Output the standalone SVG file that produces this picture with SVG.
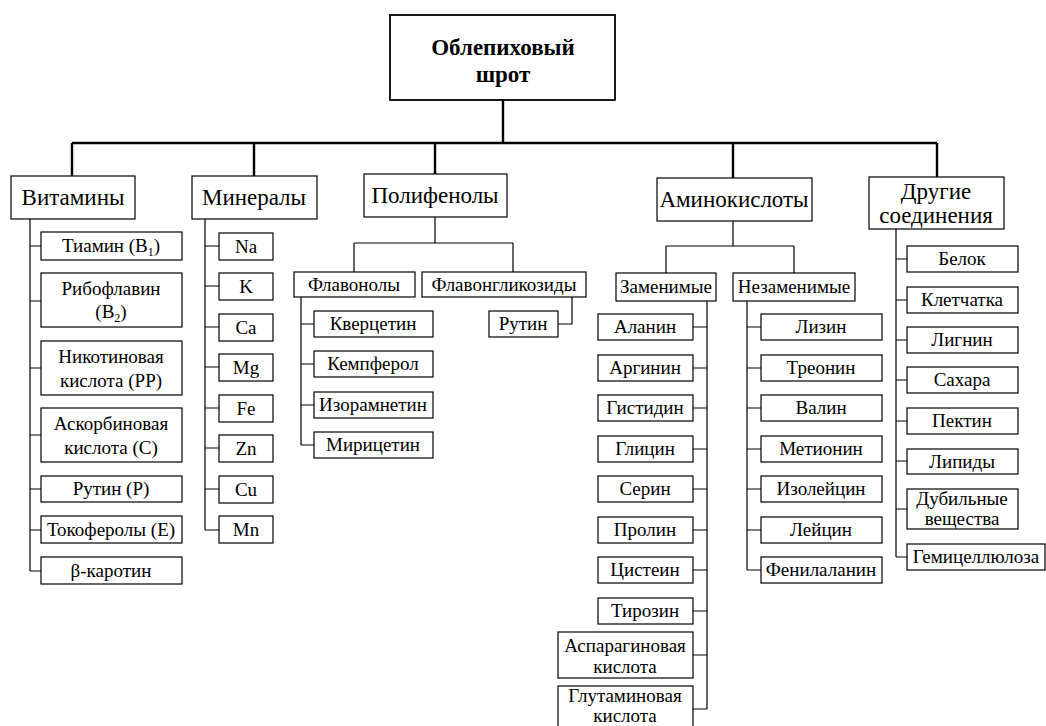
<svg xmlns="http://www.w3.org/2000/svg" width="1046" height="726" viewBox="0 0 1046 726">
<style>
rect{fill:#fff;stroke:#000;stroke-width:1.2}
.top{stroke-width:1.8}
text{font-family:"Liberation Serif","Times New Roman",serif;fill:#000;text-anchor:middle}
.t{font-size:23px;font-weight:bold}
.c{font-size:23px}
.s{font-size:19px}
.thick{stroke:#000;stroke-width:2.4;fill:none}
.thin{stroke:#000;stroke-width:1.2;fill:none}
</style>
<g id="connectors">
<path class="thick" d="M503 100V143M72 143H937M72 143V176M254 143V176M435 143V174M733 143V178M937 143V177"/>
<path class="thin" d="M30 219V571M30 246H41M30 301H41M30 368H41M30 435H41M30 489H41M30 530H41M30 571H41"/>
<path class="thin" d="M205 219V530M205 246H219M205 286H219M205 327H219M205 367H219M205 408H219M205 448H219M205 489H219M205 530H219"/>
<path class="thin" d="M435 217V243M354 243H513M354 243V272M513 243V272M301 297V445M301 324H314M301 364H314M301 405H314M301 445H314M572 297V324H558"/>
<path class="thin" d="M733 221V246M666 246H794M666 246V273M794 246V273M707 301V709M693 327H707M693 368H707M693 408H707M693 449H707M693 489H707M693 530H707M693 570H707M693 611H707M693 655H707M693 709H707"/>
<path class="thin" d="M747 301V570M747 327H761M747 368H761M747 408H761M747 449H761M747 489H761M747 530H761M747 570H761"/>
<path class="thin" d="M896 229V557M896 259H907M896 300H907M896 340H907M896 380H907M896 421H907M896 461H907M896 509H907M896 557H907"/>
</g>
<g id="root"><rect class="top" x="390" y="15" width="225" height="85"/><text class="t" x="503" y="55">Облепиховый</text><text class="t" x="503" y="82">шрот</text></g>
<g id="vitamins"><rect x="11" y="176" width="124" height="43"/><text class="c" x="73" y="205">Витамины</text></g>
<g id="minerals"><rect x="192" y="176" width="125" height="43"/><text class="c" x="254" y="205">Минералы</text></g>
<g id="polyphenols"><rect x="364" y="174" width="143" height="43"/><text class="c" x="435" y="203">Полифенолы</text></g>
<g id="aminoacids"><rect x="657" y="178" width="155" height="43"/><text class="c" x="734" y="207">Аминокислоты</text></g>
<g id="other"><rect x="869" y="177" width="135" height="52"/><text class="c" x="936" y="199">Другие</text><text class="c" x="936" y="223">соединения</text></g>

<g id="v1"><rect x="41" y="232" width="141" height="28"/><text class="s" x="111" y="252">Тиамин (B<tspan font-size="12" dy="4">1</tspan><tspan dy="-4">)</tspan></text></g>
<g id="v2"><rect x="41" y="273" width="141" height="54"/><text class="s" x="111" y="295">Рибофлавин</text><text class="s" x="111" y="318">(B<tspan font-size="12" dy="4">2</tspan><tspan dy="-4">)</tspan></text></g>
<g id="v3"><rect x="41" y="341" width="141" height="54"/><text class="s" x="111" y="363">Никотиновая</text><text class="s" x="111" y="387">кислота (PP)</text></g>
<g id="v4"><rect x="41" y="408" width="141" height="54"/><text class="s" x="111" y="430">Аскорбиновая</text><text class="s" x="111" y="454">кислота (C)</text></g>
<g id="v5"><rect x="41" y="476" width="141" height="26"/><text class="s" x="111" y="495">Рутин (P)</text></g>
<g id="v6"><rect x="41" y="516" width="141" height="27"/><text class="s" x="111" y="536" font-size="18">Токоферолы (E)</text></g>
<g id="v7"><rect x="41" y="557" width="141" height="27"/><text class="s" x="111" y="577">β-каротин</text></g>

<g id="m1"><rect x="219" y="233" width="54" height="27"/><text class="s" x="246" y="253">Na</text></g>
<g id="m2"><rect x="219" y="273" width="54" height="27"/><text class="s" x="246" y="293">K</text></g>
<g id="m3"><rect x="219" y="314" width="54" height="27"/><text class="s" x="246" y="334">Ca</text></g>
<g id="m4"><rect x="219" y="354" width="54" height="27"/><text class="s" x="246" y="374">Mg</text></g>
<g id="m5"><rect x="219" y="395" width="54" height="27"/><text class="s" x="246" y="415">Fe</text></g>
<g id="m6"><rect x="219" y="435" width="54" height="27"/><text class="s" x="246" y="455">Zn</text></g>
<g id="m7"><rect x="219" y="476" width="54" height="27"/><text class="s" x="246" y="496">Cu</text></g>
<g id="m8"><rect x="219" y="516" width="54" height="27"/><text class="s" x="246" y="536">Mn</text></g>

<g id="flavonols"><rect x="294" y="272" width="121" height="25"/><text class="s" x="354" y="291">Флавонолы</text></g>
<g id="flavonglycosides"><rect x="422" y="272" width="164" height="25"/><text class="s" x="504" y="291">Флавонгликозиды</text></g>
<g id="p1"><rect x="314" y="311" width="119" height="26"/><text class="s" x="373" y="330">Кверцетин</text></g>
<g id="p2"><rect x="314" y="351" width="119" height="26"/><text class="s" x="373" y="370">Кемпферол</text></g>
<g id="p3"><rect x="314" y="392" width="119" height="26"/><text class="s" x="373" y="411">Изорамнетин</text></g>
<g id="p4"><rect x="314" y="432" width="119" height="26"/><text class="s" x="373" y="451">Мирицетин</text></g>
<g id="p5"><rect x="489" y="311" width="69" height="26"/><text class="s" x="523" y="330">Рутин</text></g>

<g id="replaceable"><rect x="616" y="273" width="100" height="28"/><text class="s" x="666" y="293">Заменимые</text></g>
<g id="essential"><rect x="733" y="273" width="122" height="28"/><text class="s" x="794" y="293">Незаменимые</text></g>
<g id="a1"><rect x="598" y="314" width="95" height="26"/><text class="s" x="645" y="333">Аланин</text></g>
<g id="a2"><rect x="598" y="355" width="95" height="26"/><text class="s" x="645" y="374">Аргинин</text></g>
<g id="a3"><rect x="598" y="395" width="95" height="26"/><text class="s" x="645" y="414">Гистидин</text></g>
<g id="a4"><rect x="598" y="436" width="95" height="26"/><text class="s" x="645" y="455">Глицин</text></g>
<g id="a5"><rect x="598" y="476" width="95" height="26"/><text class="s" x="645" y="495">Серин</text></g>
<g id="a6"><rect x="598" y="517" width="95" height="26"/><text class="s" x="645" y="536">Пролин</text></g>
<g id="a7"><rect x="598" y="557" width="95" height="26"/><text class="s" x="645" y="576">Цистеин</text></g>
<g id="a8"><rect x="598" y="598" width="95" height="26"/><text class="s" x="645" y="617">Тирозин</text></g>
<g id="a9"><rect x="558" y="632" width="135" height="46"/><text class="s" x="625" y="652">Аспарагиновая</text><text class="s" x="625" y="673">кислота</text></g>
<g id="a10"><rect x="558" y="686" width="135" height="46"/><text class="s" x="625" y="702" font-size="18">Глутаминовая</text><text class="s" x="625" y="722" font-size="18">кислота</text></g>
<g id="e1"><rect x="761" y="314" width="121" height="26"/><text class="s" x="821" y="333">Лизин</text></g>
<g id="e2"><rect x="761" y="355" width="121" height="26"/><text class="s" x="821" y="374">Треонин</text></g>
<g id="e3"><rect x="761" y="395" width="121" height="26"/><text class="s" x="821" y="414">Валин</text></g>
<g id="e4"><rect x="761" y="436" width="121" height="26"/><text class="s" x="821" y="455">Метионин</text></g>
<g id="e5"><rect x="761" y="476" width="121" height="26"/><text class="s" x="821" y="495">Изолейцин</text></g>
<g id="e6"><rect x="761" y="517" width="121" height="26"/><text class="s" x="821" y="536">Лейцин</text></g>
<g id="e7"><rect x="761" y="557" width="121" height="26"/><text class="s" x="821" y="576">Фенилаланин</text></g>

<g id="o1"><rect x="907" y="246" width="111" height="26"/><text class="s" x="962" y="265">Белок</text></g>
<g id="o2"><rect x="907" y="287" width="111" height="26"/><text class="s" x="962" y="306">Клетчатка</text></g>
<g id="o3"><rect x="907" y="327" width="111" height="26"/><text class="s" x="962" y="346">Лигнин</text></g>
<g id="o4"><rect x="907" y="367" width="111" height="26"/><text class="s" x="962" y="386">Сахара</text></g>
<g id="o5"><rect x="907" y="408" width="111" height="26"/><text class="s" x="962" y="427">Пектин</text></g>
<g id="o6"><rect x="907" y="449" width="111" height="25"/><text class="s" x="962" y="468">Липиды</text></g>
<g id="o7"><rect x="907" y="489" width="111" height="40"/><text class="s" x="962" y="505">Дубильные</text><text class="s" x="962" y="525">вещества</text></g>
<g id="o8"><rect x="907" y="544" width="138" height="26"/><text class="s" x="976" y="563">Гемицеллюлоза</text></g>
</svg>
